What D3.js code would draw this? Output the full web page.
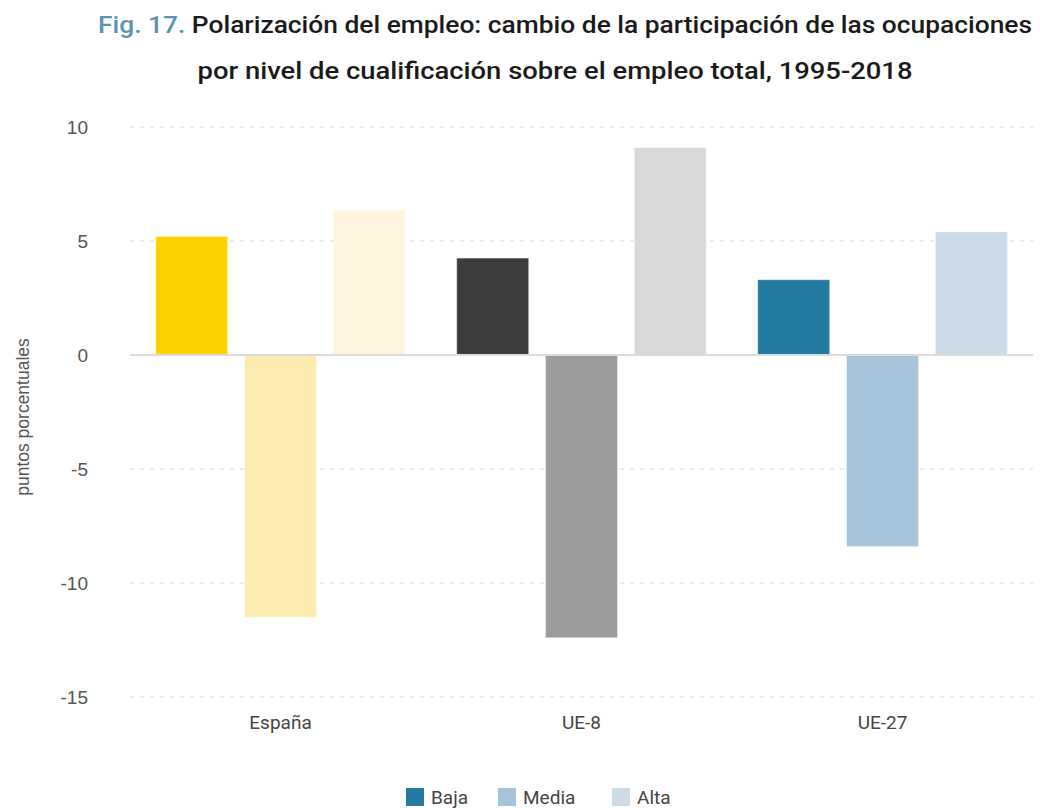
<!DOCTYPE html>
<html lang="es">
<head>
<meta charset="utf-8">
<script src="https://cdn.jsdelivr.net/npm/d3@7"></script>
<style>
  html, body { margin: 0; padding: 0; background: #fff; }
  svg { display: block; }
</style>
</head>
<body>
<svg id="chart" width="1040" height="808"></svg>
<script>
// Regiones y niveles de cualificación
const regions = ["España", "UE-8", "UE-27"];
const levels = ["Baja", "Media", "Alta"];

// Cambio en puntos porcentuales, 1995-2018 (Baja, Media, Alta)
const espana = [5.2, -11.5, 6.35];
const ue8 = [4.25, -12.4, 9.1];
const ue27 = [3.3, -8.4, 5.4];

const yTicks = [10, 5, 0, -5, -10, -15];

// Paleta por región (tonos de Baja, Media, Alta)
const palette = {
  "España": ["#FFD300", "#FDECB2", "#FEF4E0"],
  "UE-8": ["#3D3D3B", "#9C9C9C", "#D9D9D9"],
  "UE-27": ["#247BA0", "#A6C4DA", "#CCDCE6"]
};

const valuesByRegion = { "España": espana, "UE-8": ue8, "UE-27": ue27 };
const rows = regions.flatMap(r => levels.map((l, i) => ({ region: r, level: l, value: valuesByRegion[r][i], color: palette[r][i] })));

const svg = d3.select("#chart");
const plot = { left: 130, right: 1033, top: 127, bottom: 697 };

const y = d3.scaleLinear().domain([-15, 10]).range([plot.bottom, plot.top]);
const x0 = d3.scaleBand().domain(regions).range([plot.left, plot.right]).padding(0);
const x1 = d3.scaleBand().domain(levels).range([0, x0.bandwidth()]).paddingInner(0.19).paddingOuter(0.29);

// Título
const title = svg.append("text")
  .attr("x", 565).attr("y", 33)
  .attr("text-anchor", "middle")
  .style("font-family", "Roboto, 'Noto Sans', sans-serif")
  .style("font-size", "24px")
  .style("font-weight", 500)
  .attr("textLength", 934).attr("lengthAdjust", "spacingAndGlyphs");
title.append("tspan").attr("fill", "#5B93B2").text("Fig. 17. ");
title.append("tspan").attr("fill", "#1a1a1a").text("Polarización del empleo: cambio de la participación de las ocupaciones");

svg.append("text")
  .attr("x", 555).attr("y", 79)
  .attr("text-anchor", "middle")
  .attr("fill", "#1a1a1a")
  .style("font-family", "Roboto, 'Noto Sans', sans-serif")
  .style("font-size", "24px")
  .style("font-weight", 500)
  .attr("textLength", 715).attr("lengthAdjust", "spacingAndGlyphs")
  .text("por nivel de cualificación sobre el empleo total, 1995-2018");

// Líneas de cuadrícula
svg.append("g")
  .selectAll("line")
  .data(yTicks.filter(d => d !== 0))
  .join("line")
  .attr("x1", plot.left).attr("x2", plot.right)
  .attr("y1", d => y(d)).attr("y2", d => y(d))
  .attr("stroke", "#e3e3e3")
  .attr("stroke-width", 1.5)
  .attr("stroke-dasharray", "4,6");

// Eje Y (guion simple como signo negativo)
const yAxis = svg.append("g")
  .attr("transform", `translate(88,0)`)
  .call(d3.axisLeft(y).tickValues(yTicks).tickSize(0).tickPadding(0).tickFormat(d => String(d)));
yAxis.select(".domain").remove();
yAxis.selectAll("text")
  .attr("fill", "#555")
  .attr("dy", "0.35em")
  .style("font-family", "'Liberation Sans', Arial, sans-serif")
  .style("font-size", "19px");

svg.append("text")
  .attr("transform", `translate(29,417) rotate(-90)`)
  .attr("text-anchor", "middle")
  .attr("fill", "#555")
  .style("font-family", "'Liberation Sans', Arial, sans-serif")
  .style("font-size", "17.5px")
  .text("puntos porcentuales");

// Barras
svg.append("g")
  .selectAll("rect")
  .data(rows)
  .join("rect")
  .attr("x", d => x0(d.region) + x1(d.level))
  .attr("width", x1.bandwidth())
  .attr("y", d => y(Math.max(0, d.value)))
  .attr("height", d => Math.abs(y(d.value) - y(0)))
  .attr("fill", d => d.color)
  .attr("stroke", "rgba(255,255,255,0.35)")
  .attr("stroke-width", 1);

// Línea del cero
svg.append("line")
  .attr("x1", plot.left).attr("x2", plot.right)
  .attr("y1", y(0)).attr("y2", y(0))
  .attr("stroke", "#dcdcdc")
  .attr("stroke-width", 2);

// Eje X (etiquetas de región)
const xAxis = svg.append("g")
  .attr("transform", `translate(0,${plot.bottom + 11})`)
  .call(d3.axisBottom(x0).tickSize(0).tickPadding(8));
xAxis.select(".domain").remove();
xAxis.selectAll("text")
  .attr("fill", "#444")
  .style("font-family", "Roboto, 'Noto Sans', sans-serif")
  .style("font-size", "19px");

// Leyenda
const legendX = [406, 498, 612];
const legend = svg.append("g")
  .selectAll("g")
  .data(levels)
  .join("g")
  .attr("transform", (d, i) => `translate(${legendX[i]},788)`);
legend.append("rect")
  .attr("width", 18).attr("height", 18)
  .attr("fill", (d, i) => palette["UE-27"][i]);
legend.append("text")
  .attr("x", 25).attr("y", 16)
  .attr("fill", "#444")
  .style("font-family", "Roboto, 'Noto Sans', sans-serif")
  .style("font-size", "19px")
  .text(d => d);
</script>
</body>
</html>
